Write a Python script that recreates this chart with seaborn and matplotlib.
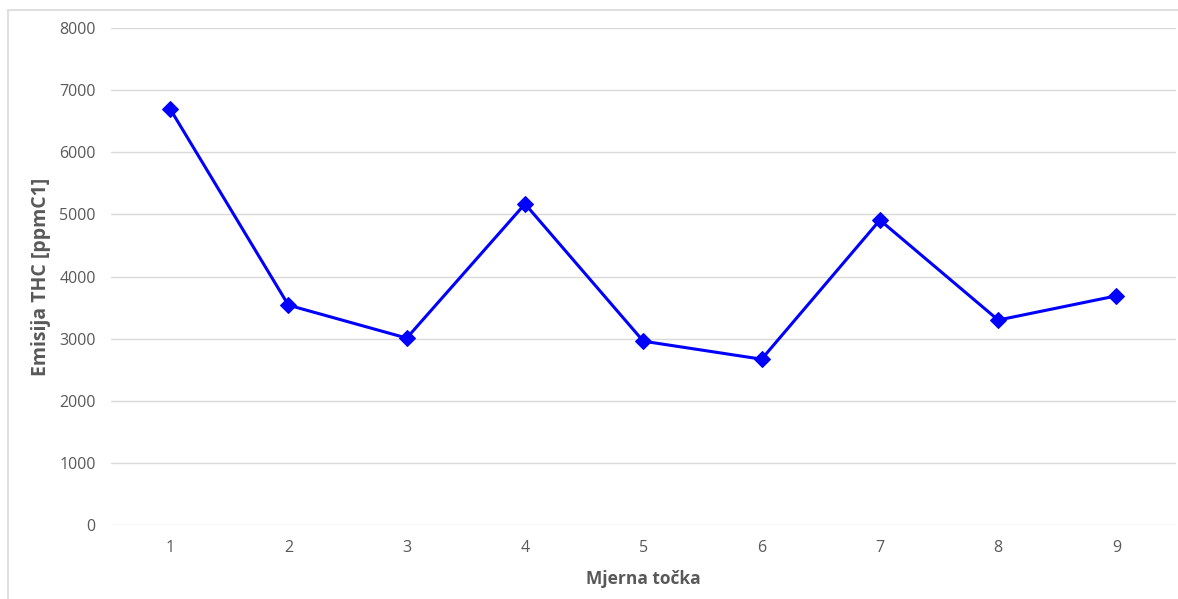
import pandas as pd
import matplotlib.pyplot as plt
import seaborn as sns
from matplotlib.patches import Rectangle

# Measurement points and THC emission values
points = [1, 2, 3, 4, 5, 6, 7, 8, 9]
thc = [6700, 3540, 3010, 5170, 2960, 2670, 4910, 3300, 3690]

df = pd.DataFrame({"tocka": points, "thc": thc})

sns.set_style("white")
plt.rcParams["font.family"] = ["Open Sans", "DejaVu Sans"]

fig = plt.figure(figsize=(11.78, 5.99), dpi=100)
ax = fig.add_axes([0.0942, 0.1235, 0.9038, 0.8295])

# light chart-area border
fig.patches.append(Rectangle((8 / 1178, -0.01), 1.1, 1 - 10 / 599 + 0.01,
                             transform=fig.transFigure, fill=False,
                             edgecolor="#d9d9d9", linewidth=1.2))

sns.lineplot(data=df, x="tocka", y="thc", ax=ax, color="#0000ff",
             marker="D", markersize=8.5, markeredgecolor="#0000ff",
             linewidth=2.2)

ax.set_xlim(0.5, 9.5)
ax.set_ylim(0, 8000)
ax.set_xticks(points)
ax.set_yticks(range(0, 8001, 1000))
ax.yaxis.grid(True, color="#d9d9d9", linewidth=1)
ax.set_axisbelow(True)
for s in ["top", "right", "left", "bottom"]:
    ax.spines[s].set_visible(False)
ax.tick_params(axis="both", length=0, labelsize=11.5, colors="#595959")
ax.tick_params(axis="y", pad=11)
ax.tick_params(axis="x", pad=11)

ax.set_xlabel("Mjerna točka", fontsize=12.5, fontweight="bold", color="#595959", labelpad=10)
ax.set_ylabel("Emisija THC [ppmC1]", fontsize=14, fontweight="bold", color="#595959", labelpad=6)

plt.savefig("out.png", dpi=100)
plt.close()
